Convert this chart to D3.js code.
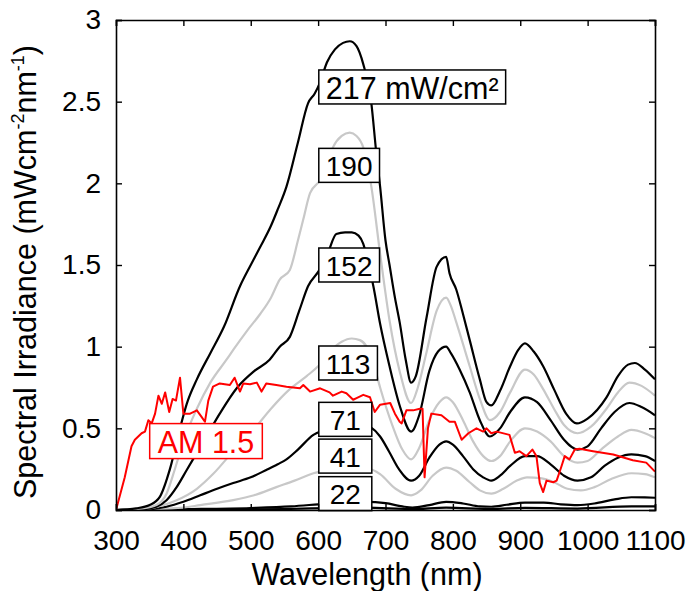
<!DOCTYPE html>
<html>
<head>
<meta charset="utf-8">
<script src="https://d3js.org/d3.v7.min.js"></script>
<style>
  body { margin: 0; background: #fff; }
  text { font-family: Arial, "Liberation Sans", sans-serif; }
</style>
</head>
<body>
<div id="chart"></div>
<script>
// readings: [wavelength nm, irradiance mW cm-2 nm-1]
const s217 = [[300,0],[330,0.01],[350,0.03],[365,0.08],[380,0.25],[395,0.5],[405,0.65],[420,0.80],[440,0.96],[460,1.12],[484,1.37],[500,1.50],[514,1.61],[530,1.74],[540,1.84],[553,1.98],[570,2.25],[585,2.49],[595,2.55],[603,2.62],[613,2.74],[625,2.82],[637,2.86],[647,2.87],[657,2.84],[667,2.73],[679,2.49],[686,2.2],[692,1.98],[700,1.65],[706,1.50],[714,1.30],[721,1.15],[730,0.92],[738,0.78],[745,0.82],[761,1.18],[776,1.49],[790,1.55],[795,1.45],[805,1.35],[815,1.2],[825,1.04],[840,0.80],[850,0.66],[857,0.64],[870,0.73],[885,0.88],[897,0.98],[907,1.02],[920,0.97],[934,0.88],[950,0.74],[968,0.59],[984,0.53],[1000,0.56],[1028,0.69],[1045,0.82],[1060,0.89],[1070,0.90],[1085,0.86],[1100,0.80]];
const s190 = [[300,0],[340,0.01],[360,0.03],[375,0.10],[387,0.245],[400,0.42],[420,0.62],[440,0.78],[464,0.92],[474,0.98],[495,1.10],[514,1.20],[530,1.30],[543,1.41],[558,1.47],[570,1.65],[578,1.78],[588,1.94],[603,2.02],[612,2.10],[622,2.22],[635,2.29],[647,2.31],[657,2.29],[667,2.22],[679,1.98],[692,1.57],[706,1.16],[721,0.85],[738,0.655],[748,0.75],[760,0.95],[776,1.22],[790,1.30],[797,1.25],[805,1.15],[825,0.88],[840,0.68],[855,0.55],[870,0.60],[885,0.72],[907,0.86],[920,0.83],[934,0.74],[950,0.62],[965,0.52],[985,0.47],[1005,0.51],[1028,0.62],[1045,0.72],[1062,0.78],[1080,0.76],[1100,0.70]];
const s152 = [[300,0],[340,0.005],[360,0.02],[375,0.06],[390,0.14],[405,0.245],[430,0.42],[454,0.59],[480,0.75],[505,0.85],[528,0.92],[543,1.0],[558,1.06],[572,1.22],[585,1.37],[602,1.47],[615,1.58],[627,1.69],[640,1.70],[650,1.70],[660,1.68],[667,1.63],[675,1.50],[682,1.37],[692,1.14],[706,0.88],[721,0.64],[738,0.48],[750,0.58],[765,0.85],[778,0.97],[790,1.00],[797,0.96],[810,0.86],[825,0.72],[840,0.55],[855,0.45],[870,0.50],[885,0.60],[907,0.69],[925,0.66],[945,0.55],[965,0.43],[985,0.37],[1000,0.39],[1020,0.50],[1040,0.60],[1062,0.655],[1080,0.63],[1100,0.58]];
const s113 = [[300,0],[350,0.01],[370,0.03],[390,0.06],[420,0.13],[444,0.22],[474,0.36],[504,0.49],[530,0.62],[558,0.74],[583,0.82],[600,0.88],[620,0.98],[635,1.03],[650,1.05],[662,1.04],[672,1.00],[682,0.90],[692,0.75],[710,0.52],[725,0.37],[738,0.31],[750,0.38],[765,0.55],[780,0.66],[790,0.69],[800,0.66],[815,0.55],[830,0.42],[845,0.33],[857,0.30],[870,0.33],[885,0.42],[907,0.50],[925,0.48],[945,0.42],[965,0.33],[985,0.29],[1000,0.30],[1020,0.37],[1045,0.45],[1065,0.49],[1085,0.47],[1100,0.44]];
const s71 = [[300,0],[350,0.005],[375,0.02],[400,0.05],[425,0.09],[450,0.13],[474,0.165],[500,0.20],[523,0.245],[540,0.28],[553,0.31],[570,0.37],[593,0.46],[610,0.49],[630,0.52],[650,0.53],[665,0.53],[677,0.51],[692,0.45],[705,0.36],[720,0.25],[738,0.18],[750,0.21],[765,0.32],[780,0.40],[790,0.42],[800,0.40],[815,0.33],[830,0.25],[845,0.20],[857,0.18],[870,0.21],[885,0.27],[907,0.33],[925,0.33],[945,0.28],[965,0.21],[985,0.18],[1005,0.20],[1025,0.27],[1045,0.32],[1065,0.34],[1085,0.33],[1100,0.30]];
const s41 = [[300,0],[400,0.015],[425,0.03],[474,0.06],[505,0.09],[538,0.14],[565,0.18],[593,0.225],[620,0.25],[645,0.27],[670,0.26],[692,0.22],[715,0.13],[738,0.09],[752,0.12],[770,0.21],[790,0.26],[805,0.24],[825,0.17],[840,0.12],[857,0.10],[875,0.13],[895,0.18],[910,0.20],[930,0.195],[950,0.17],[970,0.13],[990,0.12],[1010,0.14],[1035,0.19],[1065,0.225],[1085,0.22],[1100,0.20]];
const s22 = [[300,0],[400,0.005],[500,0.012],[560,0.022],[600,0.035],[640,0.048],[670,0.05],[700,0.042],[725,0.022],[740,0.015],[765,0.03],[790,0.05],[815,0.04],[840,0.022],[857,0.02],[880,0.032],[907,0.045],[935,0.045],[960,0.035],[985,0.03],[1010,0.04],[1040,0.065],[1065,0.078],[1085,0.077],[1100,0.075]];
const sLow = [[300,0],[450,0.002],[550,0.006],[620,0.012],[670,0.015],[740,0.006],[790,0.015],[857,0.006],[907,0.013],[985,0.009],[1065,0.022],[1100,0.022]];
const am15 = [[300,0],[313,0.20],[323,0.39],[328,0.43],[338,0.47],[343,0.48],[348,0.55],[353,0.53],[358,0.59],[363,0.70],[368,0.65],[373,0.72],[379,0.60],[384,0.68],[389,0.67],[395,0.81],[400,0.59],[410,0.59],[420,0.61],[427,0.57],[432,0.54],[437,0.67],[444,0.755],[454,0.775],[469,0.765],[476,0.81],[484,0.725],[489,0.775],[499,0.77],[509,0.78],[516,0.725],[523,0.775],[538,0.765],[553,0.755],[573,0.745],[578,0.765],[588,0.725],[603,0.745],[617,0.72],[622,0.70],[635,0.725],[642,0.715],[652,0.675],[657,0.685],[667,0.705],[677,0.69],[684,0.60],[692,0.645],[707,0.655],[714,0.59],[721,0.54],[724,0.53],[731,0.61],[741,0.61],[751,0.62],[755,0.62],[758,0.20],[763,0.50],[768,0.59],[783,0.58],[795,0.54],[803,0.54],[813,0.43],[823,0.47],[835,0.50],[845,0.48],[850,0.50],[857,0.47],[865,0.48],[884,0.46],[892,0.35],[899,0.36],[909,0.33],[918,0.37],[924,0.33],[929,0.165],[934,0.11],[939,0.18],[949,0.17],[954,0.18],[961,0.265],[966,0.33],[973,0.31],[981,0.37],[988,0.375],[1008,0.36],[1038,0.34],[1067,0.305],[1087,0.29],[1100,0.235]];

// drawn bottom to top
const seriesList = [sLow, s22, s41, s71, s113, s152, s190, s217];
const seriesColor = ["black", "black", "gray", "black", "gray", "black", "gray", "black"];

const labelText = ["217 mW/cm²", "190", "152", "113", "71", "41", "22"];
const labelValue = [2.59, 2.11, 1.50, 0.90, 0.555, 0.33, 0.10];
const labelNm = 601;

const xTicks = [300, 400, 500, 600, 700, 800, 900, 1000, 1100];
const yTicks = [0, 0.5, 1, 1.5, 2, 2.5, 3];

const width = 692, height = 591;
const margin = {top: 20, right: 37, bottom: 81, left: 116};
const fs = 28;      // digits
const fsWord = 30.5; // words are set a little wider in the original

const svg = d3.select("#chart").append("svg")
    .attr("width", width)
    .attr("height", height);

const x = d3.scaleLinear().domain([300, 1100]).range([margin.left, width - margin.right]);
const y = d3.scaleLinear().domain([0, 3]).range([height - margin.bottom, margin.top]);

svg.append("defs").append("clipPath").attr("id", "clip")
  .append("rect")
    .attr("x", margin.left).attr("y", margin.top)
    .attr("width", x(1100) - x(300)).attr("height", y(0) - y(3));

const line = d3.line()
    .x(d => x(d[0]))
    .y(d => y(d[1]))
    .curve(d3.curveMonotoneX);

const plot = svg.append("g").attr("clip-path", "url(#clip)");

seriesList.forEach((s, i) => {
  plot.append("path")
      .datum(s)
      .attr("fill", "none")
      .attr("stroke", seriesColor[i] === "gray" ? "#c8c8c8" : "#000")
      .attr("stroke-width", 2.2)
      .attr("stroke-linejoin", "round")
      .attr("d", line);
});

plot.append("path")
    .datum(am15)
    .attr("fill", "none")
    .attr("stroke", "#ff0000")
    .attr("stroke-width", 2)
    .attr("stroke-linejoin", "round")
    .attr("d", d3.line().x(d => x(d[0])).y(d => y(d[1])));

// boxed labels
labelText.forEach((t, i) => {
  const g = svg.append("g");
  const txt = g.append("text")
      .attr("x", 0).attr("y", 0)
      .attr("font-size", i === 0 ? fsWord : fs)
      .attr("dominant-baseline", "central")
      .attr("text-anchor", "middle")
      .text(t);
  const w = Math.max(53, txt.node().getComputedTextLength() + 14);
  const bx = x(labelNm), cy = y(labelValue[i]);
  g.insert("rect", "text")
      .attr("x", bx).attr("y", cy - 17)
      .attr("width", w).attr("height", 34)
      .attr("fill", "#fff")
      .attr("stroke", "#000")
      .attr("stroke-width", 1.5);
  txt.attr("x", bx + w / 2).attr("y", cy + 1);
});

// AM 1.5 label
{
  const g = svg.append("g");
  const txt = g.append("text")
      .attr("font-size", fsWord)
      .attr("fill", "#ff0000")
      .attr("dominant-baseline", "central")
      .attr("text-anchor", "middle")
      .text("AM 1.5");
  const w = txt.node().getComputedTextLength() + 16;
  const bx = x(350), cy = y(0.425);
  g.insert("rect", "text")
      .attr("x", bx).attr("y", cy - 17)
      .attr("width", w).attr("height", 35)
      .attr("fill", "#fff")
      .attr("stroke", "#ff0000")
      .attr("stroke-width", 1.5);
  txt.attr("x", bx + w / 2).attr("y", cy + 1);
}

// axes, ticks inward on all sides
const tl = 6;
svg.append("g")
    .attr("transform", `translate(0,${y(0)})`)
    .call(d3.axisBottom(x).tickValues(xTicks).tickSize(-tl).tickPadding(20).tickFormat(d3.format("d")))
    .call(g => g.selectAll("text").attr("font-size", fs).attr("fill", "#000"));
svg.append("g")
    .attr("transform", `translate(0,${y(3)})`)
    .call(d3.axisTop(x).tickValues(xTicks).tickSize(-tl).tickFormat(""));
svg.append("g")
    .attr("transform", `translate(${x(300)},0)`)
    .call(d3.axisLeft(y).tickValues(yTicks).tickSize(-tl).tickPadding(15).tickFormat(d3.format("")))
    .call(g => g.selectAll("text").attr("font-size", fs).attr("fill", "#000"));
svg.append("g")
    .attr("transform", `translate(${x(1100)},0)`)
    .call(d3.axisRight(y).tickValues(yTicks).tickSize(-tl).tickFormat(""));

svg.selectAll(".domain").attr("stroke", "#000").attr("stroke-width", 1.6);
svg.selectAll(".tick line").attr("stroke", "#000").attr("stroke-width", 1.4);

// axis titles
svg.append("text")
    .attr("x", 367).attr("y", 585)
    .attr("text-anchor", "middle")
    .attr("font-size", fsWord)
    .text("Wavelength (nm)");

const yl = svg.append("text")
    .attr("transform", "translate(36,272) rotate(-90)")
    .attr("text-anchor", "middle")
    .attr("font-size", fsWord);
yl.append("tspan").text("Spectral Irradiance (mWcm");
yl.append("tspan").attr("font-size", 18).attr("dy", -12).text("-2");
yl.append("tspan").attr("dy", 12).text("nm");
yl.append("tspan").attr("font-size", 18).attr("dy", -12).text("-1");
yl.append("tspan").attr("dy", 12).text(")");
</script>
</body>
</html>
